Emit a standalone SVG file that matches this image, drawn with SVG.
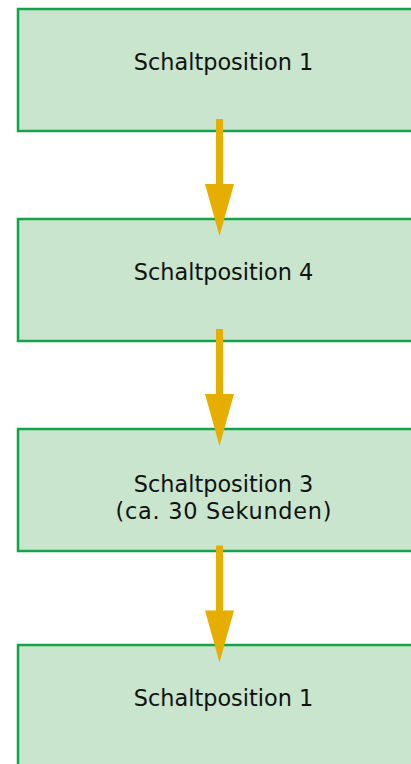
<svg xmlns="http://www.w3.org/2000/svg" width="411" height="764" viewBox="0 0 411 764">
<style>
.box{fill:#c9e5cd;stroke:#13a44a;stroke-width:2.5}
.lbl{font-family:"DejaVu Sans",sans-serif;font-size:22.4px;fill:#111;text-anchor:middle}
.arr{fill:#e5ae00}
</style>
<rect width="411" height="764" fill="#fff"/>
<g id="n1"><rect class="box" x="18" y="9" width="420" height="122"/><text class="lbl" x="223.5" y="70">Schaltposition 1</text></g>
<g id="n2"><rect class="box" x="18" y="219" width="420" height="122"/><text class="lbl" x="223.5" y="280">Schaltposition 4</text></g>
<g id="n3"><rect class="box" x="18" y="429" width="420" height="122"/><text class="lbl" x="223.5" y="492">Schaltposition 3</text><text class="lbl" x="223.5" y="518.5" textLength="216" lengthAdjust="spacing">(ca. 30 Sekunden)</text></g>
<g id="n4"><rect class="box" x="18" y="645" width="420" height="140"/><text class="lbl" x="223.5" y="706">Schaltposition 1</text></g>
<g id="connectors">
<path class="arr" d="M216,119 H223 V184 H234 L219.5,236 L205,184 H216 Z"/>
<path class="arr" d="M216,329 H223 V394 H234 L219.5,446 L205,394 H216 Z"/>
<path class="arr" d="M216,545.5 H223 V610.5 H234 L219.5,662.5 L205,610.5 H216 Z"/>
</g>
</svg>
